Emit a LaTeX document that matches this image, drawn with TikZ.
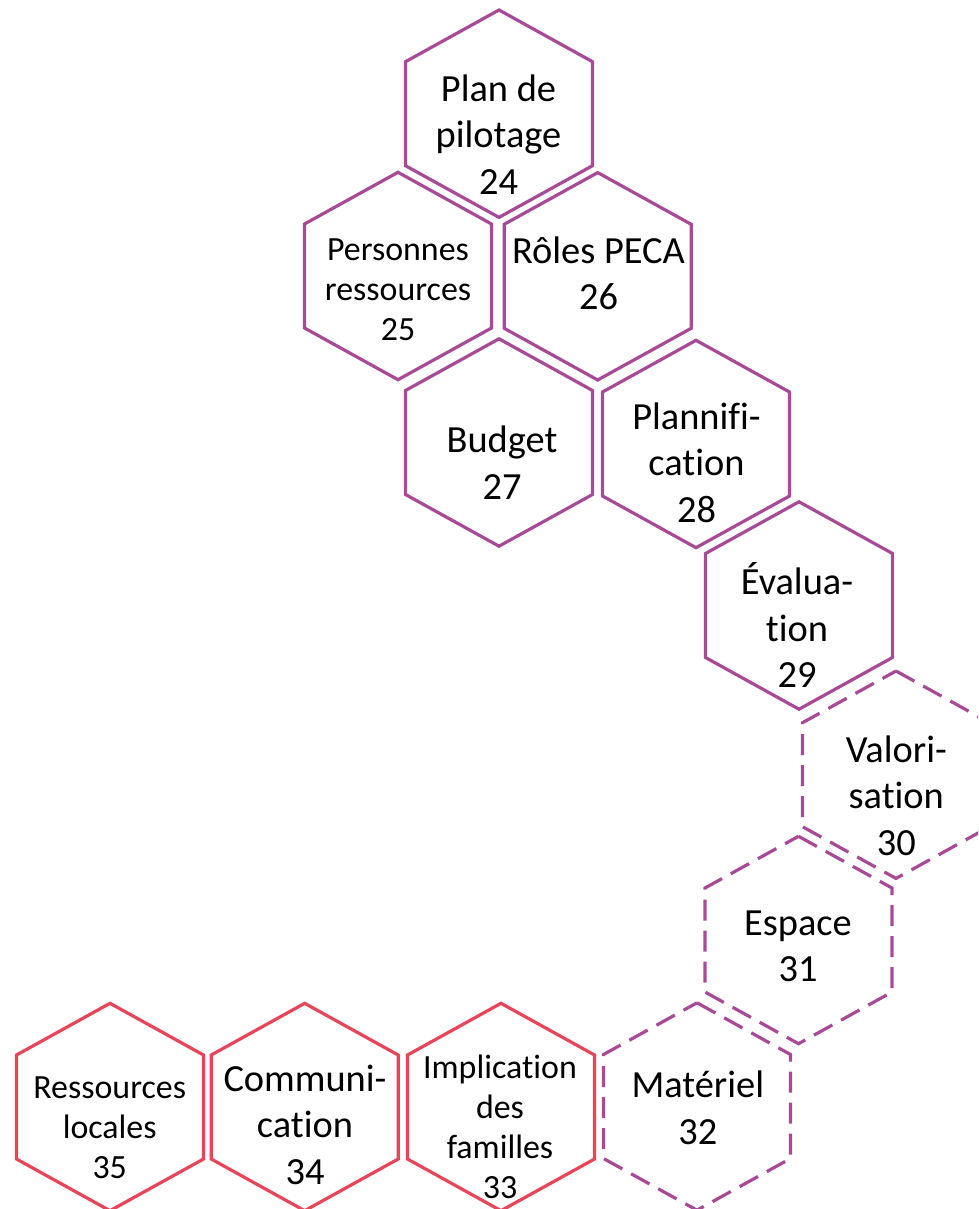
\documentclass[tikz,border=0pt]{standalone}
\usepackage{fontspec}
\setmainfont{Carlito}[Ligatures={NoCommon,NoContextual}]
\definecolor{plum}{RGB}{168,75,150}
\definecolor{rosered}{RGB}{232,69,90}
\newcommand{\hexpath}[3]{%
  \draw[#1] (#2,#3) ++(0,-103.7) -- ++(93.5,51.7) -- ++(0,104) -- ++(-93.5,51.7) -- ++(-93.5,-51.7) -- ++(0,-104) -- cycle;}
\tikzset{
  hexsolid/.style={draw=plum, line width=3.2pt},
  hexdash/.style={draw=plum, line width=3.2pt, dash pattern=on 21pt off 10pt},
  hexred/.style={draw=rosered, line width=3.2pt},
  biglbl/.style={align=center, inner sep=0pt, font=\fontsize{38.4}{46.5}\selectfont},
  smalllbl/.style={align=center, inner sep=0pt, font=\fontsize{33.9}{40}\selectfont},
}
\begin{document}
\begin{tikzpicture}[x=1pt, y=-1pt]
\useasboundingbox (0,0) rectangle (978,1209);
\clip (0,0) rectangle (978,1209);
% hexagons
\hexpath{hexsolid}{499}{113.7}
\hexpath{hexsolid}{398}{276}
\hexpath{hexsolid}{597.7}{276.3}
\hexpath{hexsolid}{499}{442.5}
\hexpath{hexsolid}{696}{444}
\hexpath{hexsolid}{799}{605.5}
\hexpath{hexdash}{896}{774.7}
\hexpath{hexdash}{798.5}{940}
\hexpath{hexdash}{697}{1106.5}
\hexpath{hexred}{501}{1107}
\hexpath{hexred}{304.7}{1107}
\hexpath{hexred}{110}{1107}
% labels
\node[biglbl] (t24) at (498.5,138.5) {\strut Plan de\\\strut pilotage\\\strut 24};
\node[smalllbl] (t25) at (398,292) {\strut Personnes\\\strut ressources\\\strut 25};
\node[biglbl] (t26) at (598.5,277.4) {\strut Rôles PECA\\\strut 26};
\node[biglbl] (t27) at (502,466.5) {\strut Budget\\\strut 27};
\node[biglbl] (t28) at (696.5,466.5) {\strut Plannifi-\\\strut cation\\\strut 28};
\node[biglbl] (t29) at (797,631.9) {\strut Évalua-\\\strut tion\\\strut 29};
\node[biglbl] (t30) at (896.3,799.5) {\strut Valori-\\\strut sation\\\strut 30};
\node[biglbl] (t31) at (798,949) {\strut Espace\\\strut 31};
\node[biglbl] (t32) at (697.8,1111.9) {\strut Matériel\\\strut 32};
\node[smalllbl] (t33) at (500,1130.3) {\strut Implication\\\strut des\\\strut familles\\\strut 33};
\node[biglbl] (t34) at (305,1128.2) {\strut Communi-\\\strut cation\\\strut 34};
\node[smalllbl] (t35) at (109.7,1130.7) {\strut Ressources\\\strut locales\\\strut 35};
\end{tikzpicture}
\end{document}
